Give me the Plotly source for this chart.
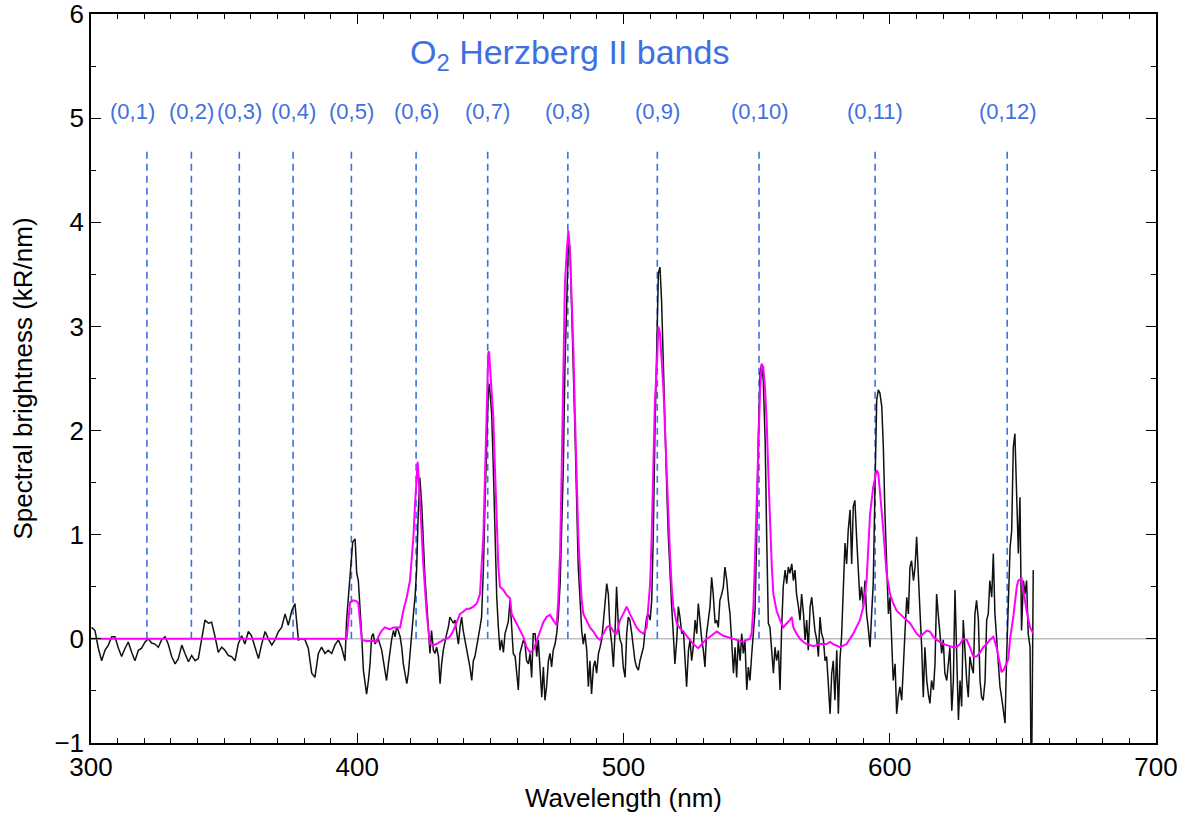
import plotly.graph_objects as go

# ---- data ----
obs_wl = [300.25, 301.5, 302.75, 304.0, 305.25, 306.5, 307.8, 309.0, 310.3, 311.5, 312.8, 314.0, 315.3, 316.5,
          317.8, 319.0, 320.3, 321.5, 322.8, 324.0, 325.3, 326.5, 327.8, 329.0, 330.3, 331.6, 332.8, 334.1,
          335.3, 336.6, 337.8, 339.1, 340.3, 341.6, 342.8, 344.1, 345.3, 346.6, 347.8, 349.1, 350.3, 351.6,
          352.8, 354.1, 355.3, 356.6, 357.8, 359.1, 360.3, 361.6, 362.9, 364.1, 365.4, 366.6, 367.9, 369.1,
          370.4, 371.6, 372.9, 374.1, 375.4, 376.6, 377.9, 379.1, 380.4, 381.6, 382.9, 384.1, 385.4, 386.6,
          387.9, 389.1, 390.4, 391.6, 392.9, 394.1, 395.4, 396.0, 397.3, 398.3, 399.2, 399.8, 400.4, 401.0,
          401.7, 402.3, 402.9, 403.5, 404.2, 404.8, 405.4, 406.0, 406.7, 407.3, 407.9, 408.5, 409.2, 409.8,
          411.0, 411.7, 412.3, 412.9, 413.6, 414.2, 414.8, 415.4, 416.1, 416.7, 417.3, 418.6, 419.2, 419.8,
          420.4, 421.1, 421.7, 422.3, 422.9, 423.5, 424.2, 424.8, 425.4, 426.1, 426.7, 427.3, 427.9, 428.6,
          429.2, 429.8, 430.5, 431.1, 431.7, 432.3, 433.6, 434.2, 434.8, 435.5, 436.1, 436.7, 437.3, 438.0,
          438.6, 439.2, 439.8, 440.5, 441.1, 441.7, 442.3, 443.0, 443.6, 444.2, 444.9, 445.5, 446.1, 446.7,
          447.4, 448.0, 448.6, 449.2, 449.6, 449.9, 450.5, 451.1, 451.7, 452.4, 453.0, 453.6, 454.2, 454.9,
          455.5, 456.1, 456.7, 457.4, 458.0, 458.6, 459.3, 459.9, 460.5, 461.1, 461.8, 462.4, 463.0, 463.6,
          464.3, 464.9, 465.5, 466.1, 466.8, 467.4, 468.0, 468.6, 469.3, 469.9, 470.5, 471.1, 471.8, 472.4,
          473.0, 473.6, 474.3, 474.9, 475.5, 476.2, 476.8, 477.4, 478.0, 478.7, 479.3, 479.9, 480.5, 481.2,
          481.8, 482.4, 483.0, 483.7, 484.3, 484.9, 485.5, 486.2, 486.8, 487.4, 488.0, 488.7, 489.3, 489.9,
          490.6, 491.2, 491.8, 492.4, 493.1, 493.7, 494.3, 494.9, 495.6, 496.2, 496.8, 497.4, 498.1, 498.7,
          499.3, 499.9, 500.6, 501.2, 501.8, 502.4, 503.1, 503.7, 504.3, 504.9, 505.6, 506.2, 506.8, 507.5,
          508.1, 508.7, 509.3, 510.0, 510.6, 511.2, 511.8, 512.5, 513.1, 513.7, 514.3, 515.0, 515.6, 516.2,
          516.8, 517.5, 518.1, 518.7, 519.3, 520.0, 520.6, 521.2, 521.9, 522.5, 523.1, 523.7, 524.4, 525.0,
          525.6, 526.2, 526.9, 527.5, 528.1, 528.7, 529.4, 530.0, 530.6, 531.2, 531.9, 532.5, 533.1, 533.7,
          534.4, 535.0, 535.6, 536.2, 536.9, 537.5, 538.1, 538.8, 539.4, 540.0, 540.6, 541.3, 541.9, 542.5,
          543.1, 543.8, 544.4, 545.0, 545.6, 546.3, 546.9, 547.5, 548.1, 548.8, 549.4, 550.0, 550.6, 551.3,
          551.9, 552.5, 553.2, 553.8, 554.4, 555.0, 555.7, 556.3, 556.9, 557.5, 558.2, 558.8, 559.4, 560.0,
          560.7, 561.3, 561.9, 562.5, 563.2, 563.8, 564.4, 565.0, 565.7, 566.3, 566.9, 567.6, 568.2, 568.8,
          569.4, 570.1, 570.7, 571.3, 571.9, 572.6, 573.2, 573.8, 574.4, 575.1, 575.7, 576.3, 577.0, 577.6,
          578.2, 578.8, 579.4, 580.1, 580.7, 581.3, 581.9, 582.6, 583.2, 583.8, 584.4, 585.1, 585.7, 586.3,
          586.9, 587.6, 588.2, 588.8, 589.4, 590.1, 590.7, 591.3, 591.9, 592.6, 593.2, 593.8, 594.5, 595.1,
          595.7, 596.3, 597.0, 597.6, 598.2, 598.8, 599.5, 600.1, 600.7, 601.3, 602.0, 602.6, 603.2, 603.8,
          604.5, 605.1, 605.7, 606.4, 607.0, 607.6, 608.2, 608.9, 609.5, 610.1, 610.7, 611.4, 612.0, 612.6,
          613.2, 613.9, 614.5, 615.1, 615.7, 616.4, 617.0, 617.6, 618.2, 618.9, 619.5, 620.1, 620.7, 621.4,
          622.0, 622.6, 623.3, 623.9, 624.5, 625.1, 625.8, 626.4, 627.0, 627.6, 628.3, 628.9, 629.5, 630.1,
          630.8, 631.4, 632.0, 632.6, 633.3, 633.9, 634.5, 635.1, 635.8, 636.4, 637.0, 637.6, 638.3, 638.9,
          639.5, 640.1, 640.8, 641.4, 642.0, 642.7, 643.3, 643.9, 644.5, 645.2, 645.8, 646.4, 647.0, 647.7,
          648.3, 648.9, 649.5, 650.2, 650.8, 651.4, 652.0, 652.7, 653.2, 653.9]
obs_val = [0.11, 0.08, -0.09, -0.21, -0.11, -0.06, 0.02, 0.02, -0.09, -0.17, -0.09, -0.03, -0.13, -0.21,
           -0.11, -0.09, -0.03, 0.0, -0.04, -0.05, -0.08, -0.01, 0.02, -0.05, -0.17, -0.24, -0.19, -0.06,
           -0.14, -0.22, -0.16, -0.21, -0.19, 0.02, 0.18, 0.15, 0.16, 0.02, -0.13, -0.08, -0.11, -0.16,
           -0.17, -0.21, -0.05, 0.03, -0.05, 0.07, 0.03, -0.08, -0.19, -0.05, 0.07, 0.0, -0.06, -0.01,
           0.07, 0.11, 0.24, 0.13, 0.27, 0.34, -0.01, 0.0, -0.01, -0.09, -0.33, -0.37, -0.14, -0.08,
           -0.14, -0.11, -0.14, -0.06, -0.01, -0.08, -0.21, 0.18, 0.59, 0.93, 0.96, 0.63, 0.56, 0.34,
           0.02, -0.30, -0.43, -0.53, -0.40, -0.24, 0.02, 0.05, -0.05, -0.01, 0.0, -0.05, -0.11, -0.21,
           -0.40, -0.24, -0.11, -0.01, 0.08, 0.02, 0.11, 0.08, 0.02, -0.08, -0.24, -0.43, -0.33, -0.14,
           0.08, 0.24, 0.40, 0.66, 1.2, 1.55, 1.3, 0.9, 0.6, 0.34, 0.11, -0.14, 0.08, -0.11,
           -0.14, -0.08, -0.17, -0.43, -0.24, -0.11, 0.05, 0.11, 0.21, 0.18, 0.15, 0.18, 0.08, -0.05,
           0.11, 0.21, 0.08, -0.01, -0.11, -0.17, -0.27, -0.40, -0.21, -0.17, -0.08, 0.02, 0.11, 0.21,
           0.69, 1.33, 1.97, 2.36, 2.45, 2.32, 2.16, 1.65, 1.01, 0.40, 0.11, -0.11, -0.01, -0.13,
           0.05, 0.11, 0.16, 0.37, 0.05, -0.14, -0.17, -0.33, -0.49, -0.14, -0.08, -0.01, -0.05, -0.21,
           -0.24, -0.14, -0.37, 0.05, 0.05, -0.17, -0.01, -0.30, -0.56, -0.27, -0.59, -0.46, -0.21, -0.14,
           -0.27, -0.11, -0.05, 0.05, 0.21, 0.53, 1.01, 1.65, 2.61, 3.41, 3.80, 3.76, 3.25, 2.61,
           1.97, 1.33, 0.69, 0.37, 0.08, -0.05, 0.05, -0.11, -0.46, -0.21, -0.53, -0.27, -0.21, -0.33,
           -0.14, -0.08, -0.01, 0.15, 0.37, 0.53, 0.43, 0.11, -0.05, -0.27, 0.05, 0.50, 0.11, -0.01,
           -0.05, -0.27, -0.37, 0.05, 0.21, 0.18, 0.05, -0.11, -0.21, -0.27, -0.30, -0.21, -0.14, -0.08,
           0.08, 0.21, 0.24, 0.18, 0.37, 1.01, 1.97, 2.93, 3.51, 3.57, 3.25, 2.61, 1.97, 1.49,
           1.01, 0.53, 0.31, 0.05, -0.24, -0.01, 0.31, 0.21, 0.05, 0.08, -0.17, -0.46, -0.11, -0.01,
           -0.21, -0.08, 0.18, 0.05, 0.34, 0.15, -0.01, -0.11, -0.27, 0.05, 0.21, 0.31, 0.59, 0.43,
           0.15, 0.18, 0.11, 0.37, 0.43, 0.50, 0.69, 0.56, 0.37, 0.24, -0.01, -0.33, -0.08, -0.37,
           -0.01, -0.21, 0.05, -0.14, -0.01, -0.49, -0.27, -0.40, -0.17, 0.11, 0.27, 0.95, 1.91, 2.55,
           2.64, 2.48, 1.91, 0.95, 0.15, 0.11, -0.17, -0.33, -0.08, -0.21, -0.11, -0.49, 0.11, 0.50,
           0.66, 0.53, 0.69, 0.63, 0.72, 0.56, 0.66, 0.43, 0.31, 0.18, 0.43, 0.24, -0.01, 0.18,
           -0.11, 0.31, 0.40, 0.24, 0.08, -0.01, -0.17, 0.21, 0.05, -0.01, -0.21, -0.17, -0.49, -0.72,
           -0.33, -0.21, -0.59, -0.11, -0.72, -0.20, 0.02, 0.56, 0.92, 0.72, 1.04, 1.24, 0.72, 1.27,
           1.33, 0.95, 0.63, 0.37, 0.50, 0.31, 0.56, 0.24, 0.11, -0.08, 0.24, 0.53, 1.52, 2.29,
           2.39, 2.36, 2.23, 1.84, 1.20, 0.72, 0.24, 0.40, -0.08, -0.40, -0.24, -0.72, -0.56, -0.46,
           -0.59, -0.33, 0.05, 0.40, 0.24, 0.69, 0.75, 0.56, 0.69, 0.98, 0.56, 0.24, -0.08, -0.56,
           -0.08, -0.40, -0.53, -0.62, -0.40, -0.49, -0.24, 0.43, 0.24, 0.05, -0.14, -0.01, -0.33, -0.40,
           -0.21, -0.08, -0.69, -0.40, 0.47, -0.24, -0.78, -0.40, -0.65, 0.18, -0.17, -0.40, -0.56, -0.17,
           -0.27, -0.33, 0.24, 0.37, 0.18, -0.40, -0.56, -0.59, -0.40, 0.18, 0.24, 0.56, 0.40, 0.82,
           0.24, -0.01, -0.27, -0.46, -0.56, -0.72, -0.81, -0.17, 0.24, 0.88, 1.04, 1.84, 1.97, 1.20,
           0.82, 1.36, 0.08, 0.56, 0.43, 0.56, 0.05, -0.08, -1.6, 0.66]

model_wl = [300.0, 396.0, 396.7, 397.3, 398.5, 399.8, 400.4, 401.0, 401.7, 403.5, 406.0, 407.3, 407.9, 409.2,
            410.4, 412.3, 413.6, 414.8, 416.1, 417.3, 418.6, 419.8, 421.1, 421.7, 422.3, 422.7, 423.6, 424.8,
            426.1, 427.3, 428.6, 429.8, 431.1, 432.3, 433.6, 434.8, 436.1, 437.3, 438.6, 439.8, 441.1, 442.3,
            443.6, 444.9, 446.1, 447.4, 448.0, 448.6, 449.2, 449.5, 449.9, 450.5, 451.1, 451.7, 452.4, 453.0,
            453.6, 454.9, 456.1, 457.4, 458.0, 459.9, 461.1, 462.4, 463.6, 464.9, 466.1, 467.4, 468.6, 469.9,
            471.1, 472.4, 473.6, 474.9, 475.5, 476.2, 476.8, 477.4, 478.0, 478.7, 479.3, 479.9, 480.5, 481.2,
            481.8, 482.4, 483.0, 483.7, 484.3, 484.9, 486.2, 487.4, 488.7, 489.9, 491.2, 492.4, 493.7, 494.9,
            496.2, 497.4, 498.7, 499.9, 501.2, 502.4, 503.7, 504.9, 506.2, 507.5, 508.7, 510.0, 510.6, 511.2,
            511.8, 512.5, 513.1, 513.7, 514.3, 515.0, 515.6, 516.2, 516.8, 517.5, 518.1, 518.7, 520.0, 521.2,
            522.5, 523.7, 525.0, 526.2, 528.1, 530.0, 531.2, 532.5, 535.0, 537.5, 540.0, 542.5, 545.0, 546.3,
            547.5, 548.1, 548.8, 549.4, 550.0, 550.6, 551.3, 551.9, 552.5, 553.2, 553.8, 554.4, 555.0, 555.7,
            556.3, 557.5, 558.8, 560.0, 561.3, 562.5, 563.2, 563.8, 565.0, 566.3, 567.6, 568.8, 571.3, 573.8,
            576.3, 577.6, 578.8, 581.3, 583.8, 586.3, 588.8, 590.1, 591.3, 591.9, 592.6, 593.8, 595.1, 595.7,
            596.3, 597.6, 598.8, 600.1, 601.3, 602.6, 603.8, 605.1, 606.4, 607.6, 608.9, 610.1, 611.4, 612.6,
            613.9, 615.1, 616.4, 617.6, 618.9, 620.1, 621.4, 623.9, 625.1, 626.4, 627.6, 628.9, 630.1, 631.4,
            632.6, 633.9, 635.1, 636.4, 637.6, 638.9, 640.1, 641.4, 642.0, 642.7, 643.9, 644.5, 645.2, 646.4,
            647.7, 648.3, 649.5, 650.2, 651.4, 652.7, 653.9]
model_val = [0.0, 0.0, 0.18, 0.35, 0.37, 0.36, 0.34, 0.15, -0.01, -0.02, -0.02, -0.03, 0.02, 0.08,
             0.11, 0.09, 0.11, 0.11, 0.11, 0.27, 0.40, 0.56, 0.98, 1.30, 1.62, 1.70, 1.30, 0.72,
             0.24, -0.05, -0.06, -0.05, -0.03, -0.01, 0.0, 0.02, 0.08, 0.16, 0.24, 0.26, 0.29, 0.29,
             0.31, 0.34, 0.43, 1.01, 1.65, 2.29, 2.74, 2.76, 2.61, 2.42, 2.13, 1.65, 1.17, 0.69,
             0.50, 0.47, 0.42, 0.39, 0.24, 0.15, 0.08, 0.02, -0.08, -0.13, -0.11, -0.01, 0.08, 0.16,
             0.21, 0.23, 0.18, 0.13, 0.37, 0.85, 1.65, 2.61, 3.41, 3.73, 3.92, 3.73, 3.32, 2.77,
             2.13, 1.49, 1.01, 0.63, 0.37, 0.24, 0.18, 0.11, 0.07, 0.02, -0.01, 0.05, 0.11, 0.13,
             0.07, 0.05, 0.18, 0.24, 0.31, 0.24, 0.18, 0.11, 0.07, 0.05, 0.11, 0.53, 1.01, 1.65,
             2.29, 2.61, 3.0, 2.93, 2.7, 2.4, 2.0, 1.6, 1.15, 0.8, 0.5, 0.31, 0.15, 0.10,
             0.07, 0.03, -0.01, -0.05, -0.09, -0.03, 0.0, 0.02, 0.07, 0.03, 0.01, -0.01, -0.03, -0.01,
             0.0, 0.05, 0.31, 0.79, 1.27, 1.91, 2.39, 2.64, 2.61, 2.39, 2.07, 1.59, 1.11, 0.69,
             0.43, 0.27, 0.18, 0.11, 0.15, 0.18, 0.21, 0.11, 0.05, 0.0, -0.03, -0.05, -0.07, -0.05,
             -0.05, -0.03, -0.05, -0.08, -0.05, 0.05, 0.18, 0.31, 0.56, 0.88, 1.20, 1.46, 1.62, 1.59,
             1.43, 1.04, 0.63, 0.43, 0.34, 0.27, 0.24, 0.21, 0.18, 0.15, 0.10, 0.05, 0.02, 0.05,
             0.08, 0.07, 0.02, -0.01, -0.03, -0.05, -0.06, -0.08, -0.08, -0.05, 0.0, -0.01, -0.08, -0.17,
             -0.17, -0.13, -0.08, -0.05, -0.01, 0.02, -0.08, -0.27, -0.32, -0.30, -0.24, -0.20, 0.0, 0.21,
             0.50, 0.56, 0.58, 0.45, 0.27, 0.11, 0.05]

band_labels = ["(0,1)", "(0,2)", "(0,3)", "(0,4)", "(0,5)", "(0,6)", "(0,7)", "(0,8)", "(0,9)",
               "(0,10)", "(0,11)", "(0,12)"]
band_wl = [321.0, 337.7, 355.7, 375.9, 397.8, 422.1, 449.0, 479.1, 512.7, 550.9, 594.5, 644.1]
label_wl = [315.6, 337.7, 355.7, 375.9, 397.8, 422.1, 449.0, 479.1, 512.7, 550.9, 594.5, 644.1]
band_top = 4.72
label_y = 5.06
title_text = "O<sub>2</sub> Herzberg II bands"
title_pos = (479.6, 5.61)

BLUE = "#3f70e2"
FONT = "Liberation Sans, Arial, sans-serif"

fig = go.Figure()

# zero reference line
fig.add_trace(go.Scatter(x=[300, 700], y=[0, 0], mode="lines",
                         line=dict(color="#bdbdbd", width=1.5), hoverinfo="skip", showlegend=False))

# band markers
for wl in band_wl:
    fig.add_trace(go.Scatter(x=[wl, wl], y=[0, band_top], mode="lines",
                             line=dict(color=BLUE, width=1.6, dash="7px,5px"),
                             hoverinfo="skip", showlegend=False))

fig.add_trace(go.Scatter(x=obs_wl, y=obs_val, mode="lines",
                         line=dict(color="#111111", width=1.5), showlegend=False))
fig.add_trace(go.Scatter(x=model_wl, y=model_val, mode="lines",
                         line=dict(color="#ff00ff", width=2), showlegend=False))

for lab, wl in zip(band_labels, label_wl):
    fig.add_annotation(x=wl, y=label_y, xref="x", yref="y", text=lab, showarrow=False,
                       font=dict(family=FONT, size=22, color=BLUE))

fig.add_annotation(x=title_pos[0], y=title_pos[1], xref="x", yref="y", text=title_text,
                   showarrow=False, font=dict(family=FONT, size=34, color=BLUE))

axis_common = dict(showline=True, linecolor="black", linewidth=1.5, mirror="allticks",
                   ticks="inside", ticklen=10, tickwidth=1.3, tickcolor="black",
                   showgrid=False, zeroline=False, automargin=False, ticklabeloverflow="allow",
                   tickfont=dict(family=FONT, size=26, color="black"))

fig.update_xaxes(range=[300, 700], tick0=300, dtick=100,
                 minor=dict(dtick=10, ticks="inside", ticklen=5, tickcolor="black", tickwidth=1.2,
                            showgrid=False),
                 title=dict(text="Wavelength (nm)", font=dict(family=FONT, size=26, color="black"),
                            standoff=10),
                 **axis_common)
fig.update_yaxes(range=[-1, 6], tick0=0, dtick=1,
                 minor=dict(dtick=0.5, ticks="inside", ticklen=5, tickcolor="black", tickwidth=1.2,
                            showgrid=False),
                 title=dict(text="Spectral brightness (kR/nm)",
                            font=dict(family=FONT, size=26, color="black"), standoff=14),
                 **axis_common)

fig.update_layout(width=1184, height=813, margin=dict(l=91, r=28, t=14, b=70, autoexpand=False),
                  paper_bgcolor="white", plot_bgcolor="white",
                  font=dict(family=FONT, color="black"))

fig.write_html("out.html", config={"displayModeBar": False},
               post_script="document.body.style.margin='0px';document.body.style.overflow='hidden';")
